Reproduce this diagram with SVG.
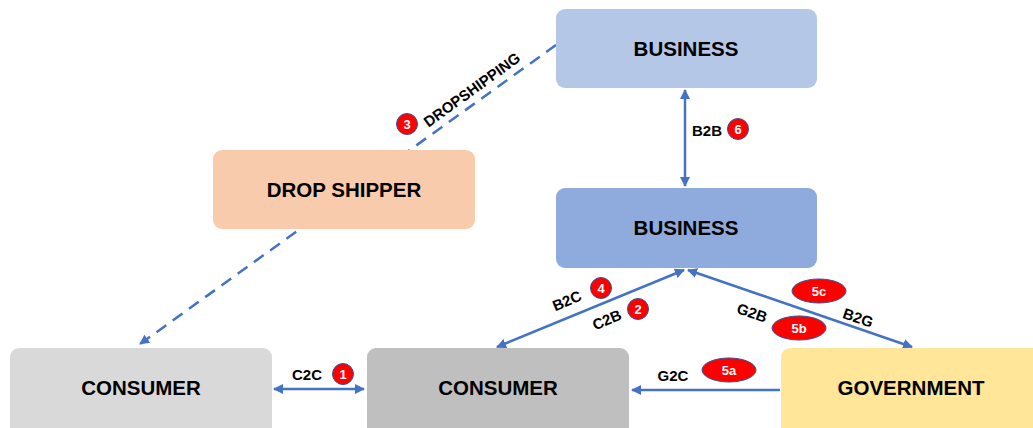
<svg xmlns="http://www.w3.org/2000/svg" width="1033" height="428" viewBox="0 0 1033 428">
<style>
.box{stroke:none}
.nt{font-family:"Liberation Sans",Arial,sans-serif;font-weight:bold;font-size:20.5px;fill:#000;text-anchor:middle}
.lb{font-family:"Liberation Sans",Arial,sans-serif;font-weight:bold;font-size:15px;fill:#000;text-anchor:middle}
.bd{fill:#f00;stroke:#2f5597;stroke-width:1}
.bt{font-family:"Liberation Sans",Arial,sans-serif;font-weight:bold;font-size:13px;fill:#fff;text-anchor:middle}
.ln{stroke:#4472c4;stroke-width:2.5;fill:none}
</style>
<defs>
<marker id="ah" viewBox="0 0 10 10" refX="9" refY="5" markerWidth="4" markerHeight="4" orient="auto-start-reverse" markerUnits="strokeWidth">
<path d="M0,0 L10,5 L0,10 z" fill="#4472c4"/>
</marker>
</defs>
<rect width="1033" height="428" fill="#fff"/>
<g id="connectors">
<line class="ln" x1="556" y1="45" x2="140" y2="344" stroke-dasharray="12,8" marker-end="url(#ah)"/>
<line class="ln" x1="685" y1="90" x2="685" y2="186" marker-start="url(#ah)" marker-end="url(#ah)"/>
<line class="ln" x1="274" y1="389" x2="364" y2="389" marker-start="url(#ah)" marker-end="url(#ah)"/>
<line class="ln" x1="780" y1="390" x2="632" y2="390" marker-end="url(#ah)"/>
<line class="ln" x1="684" y1="270" x2="497" y2="347" marker-start="url(#ah)" marker-end="url(#ah)"/>
<line class="ln" x1="688" y1="270" x2="912" y2="347" marker-start="url(#ah)" marker-end="url(#ah)"/>
</g>
<g id="drop-shipper">
<rect class="box" x="213" y="150" width="262" height="79" rx="9" fill="#f8cbad"/>
<text class="nt" x="344" y="197">DROP SHIPPER</text>
</g>
<g id="business-top">
<rect class="box" x="556" y="9" width="261" height="79" rx="9" fill="#b4c7e7"/>
<text class="nt" x="686" y="56">BUSINESS</text>
</g>
<g id="business-mid">
<rect class="box" x="556" y="188" width="261" height="80" rx="9" fill="#8faadc"/>
<text class="nt" x="686" y="235">BUSINESS</text>
</g>
<g id="consumer-left">
<rect class="box" x="10" y="348" width="262" height="90" rx="9" fill="#d9d9d9"/>
<text class="nt" x="141" y="395">CONSUMER</text>
</g>
<g id="consumer-mid">
<rect class="box" x="367" y="348" width="262" height="90" rx="9" fill="#bfbfbf"/>
<text class="nt" x="498" y="395">CONSUMER</text>
</g>
<g id="government">
<rect class="box" x="781" y="348" width="262" height="90" rx="9" fill="#ffe699"/>
<text class="nt" x="911" y="395">GOVERNMENT</text>
</g>
<g id="labels">
<text class="lb" transform="translate(472,90) rotate(-36)" y="5" font-size="13.5">DROPSHIPPING</text>
<circle class="bd" cx="407" cy="124" r="10.5"/><text class="bt" x="407" y="128.5">3</text>
<text class="lb" x="707" y="136">B2B</text>
<circle class="bd" cx="738" cy="129" r="10.5"/><text class="bt" x="738" y="133.5">6</text>
<text class="lb" x="307" y="380">C2C</text>
<circle class="bd" cx="343" cy="374" r="10.5"/><text class="bt" x="343" y="378.5">1</text>
<text class="lb" x="673" y="381">G2C</text>
<ellipse class="bd" cx="729" cy="370" rx="27" ry="12"/><text class="bt" x="729" y="374.5">5a</text>
<text class="lb" transform="translate(567,301) rotate(-23)" y="5">B2C</text>
<circle class="bd" cx="601" cy="288" r="10.5"/><text class="bt" x="601" y="292.5">4</text>
<text class="lb" transform="translate(607,320) rotate(-23)" y="5">C2B</text>
<circle class="bd" cx="638" cy="309" r="10.5"/><text class="bt" x="638" y="313.5">2</text>
<text class="lb" transform="translate(752,313) rotate(19)" y="5">G2B</text>
<text class="lb" transform="translate(858,318) rotate(19)" y="5">B2G</text>
<ellipse class="bd" cx="819" cy="291" rx="27" ry="12"/><text class="bt" x="819" y="295.5">5c</text>
<ellipse class="bd" cx="799" cy="328" rx="27" ry="12"/><text class="bt" x="799" y="332.5">5b</text>
</g>
</svg>
